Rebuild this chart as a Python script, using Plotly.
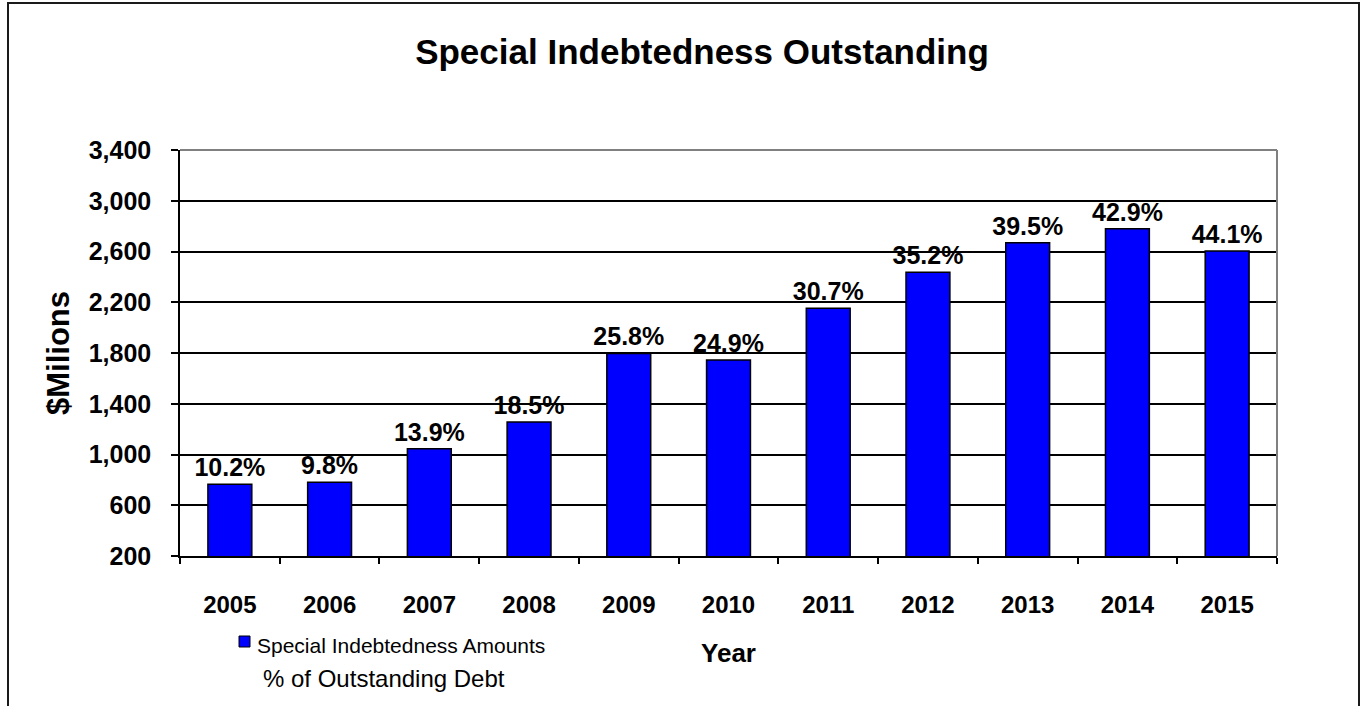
import plotly.graph_objects as go

years = ["2005", "2006", "2007", "2008", "2009", "2010", "2011", "2012", "2013", "2014", "2015"]
amounts = [765, 781, 1046, 1256, 1797, 1745, 2152, 2436, 2669, 2779, 2603]
pct_outstanding = ["10.2%", "9.8%", "13.9%", "18.5%", "25.8%", "24.9%", "30.7%", "35.2%", "39.5%", "42.9%", "44.1%"]
y_ticks = [200, 600, 1000, 1400, 1800, 2200, 2600, 3000, 3400]

FONT = "Liberation Sans, Arial, sans-serif"

fig = go.Figure()
fig.add_trace(go.Bar(
    x=years, y=amounts,
    name="Special Indebtedness Amounts",
    marker=dict(color="#0000FF", line=dict(color="#000000", width=1.5)),
    text=pct_outstanding, textposition="outside", cliponaxis=False,
    constraintext="none",
    textfont=dict(family=FONT, size=25, color="#000000"),
    texttemplate="<b>%{text}</b>",
    hoverinfo="x+y",
))

W, H = 1364, 706
L, R, T, B = 180, 87, 150, 150
pw, ph = W - L - R, H - T - B

def px(x):
    return (x - L) / pw

def py(y):
    return (H - B - y) / ph

fig.update_layout(
    width=W, height=H,
    margin=dict(l=L, r=R, t=T, b=B),
    paper_bgcolor="white", plot_bgcolor="white",
    showlegend=False,
    bargap=0.56,
    title=dict(text="<b>Special Indebtedness Outstanding</b>",
               font=dict(family=FONT, size=35, color="#000000"),
               x=702 / W, xanchor="center", y=1 - 52 / H, yanchor="middle",
               xref="container", yref="container"),
    xaxis=dict(
        type="category",
        showline=True, linecolor="#000000", linewidth=1.5,
        ticks="outside", tickson="boundaries", ticklen=6, tickcolor="#000000", tickwidth=1.5,
        tickfont=dict(family=FONT, size=24, color="#000000"),
        tickprefix="<b>", ticksuffix="</b>",
        ticklabelstandoff=26,
        showgrid=False,
        title=dict(text="<b>Year</b>", font=dict(family=FONT, size=26, color="#000000"), standoff=27),
    ),
    yaxis=dict(
        range=[200, 3400], tickvals=y_ticks,
        ticktext=["<b>{:,}</b>".format(v) for v in y_ticks],
        showline=True, linecolor="#000000", linewidth=1.5,
        ticks="outside", ticklen=7, tickcolor="#000000", tickwidth=1.5,
        tickfont=dict(family=FONT, size=25, color="#000000"),
        ticklabelstandoff=15,
        showgrid=True, gridcolor="#000000", gridwidth=1.5,
        zeroline=False,
        title=dict(text="<b>$Milions</b>", font=dict(family=FONT, size=31, color="#000000"), standoff=10),
    ),
    shapes=[
        dict(type="line", xref="paper", yref="paper", x0=0, x1=1, y0=1, y1=1,
             line=dict(color="#808080", width=2), layer="above"),
        dict(type="line", xref="paper", yref="paper", x0=1, x1=1, y0=0, y1=1,
             line=dict(color="#808080", width=2), layer="above"),
        dict(type="rect", xref="paper", yref="paper",
             x0=px(8), x1=px(1359), y0=py(712), y1=py(3),
             line=dict(color="#1a1a1a", width=2), fillcolor="rgba(0,0,0,0)", layer="above"),
        dict(type="rect", xref="paper", yref="paper",
             x0=px(239), x1=px(250), y0=py(647), y1=py(636),
             line=dict(color="#000000", width=1), fillcolor="#0000FF", layer="above"),
    ],
    annotations=[
        dict(text="Special Indebtedness Amounts", xref="paper", yref="paper",
             x=px(255), y=py(645), xanchor="left", yanchor="middle", showarrow=False,
             font=dict(family=FONT, size=21, color="#000000")),
        dict(text="% of Outstanding Debt", xref="paper", yref="paper",
             x=px(261), y=py(678), xanchor="left", yanchor="middle", showarrow=False,
             font=dict(family=FONT, size=24, color="#000000")),
    ],
)

fig.write_html("out.html", config={"displayModeBar": False},
               post_script="document.body.style.margin='0';document.body.style.overflow='hidden';")
